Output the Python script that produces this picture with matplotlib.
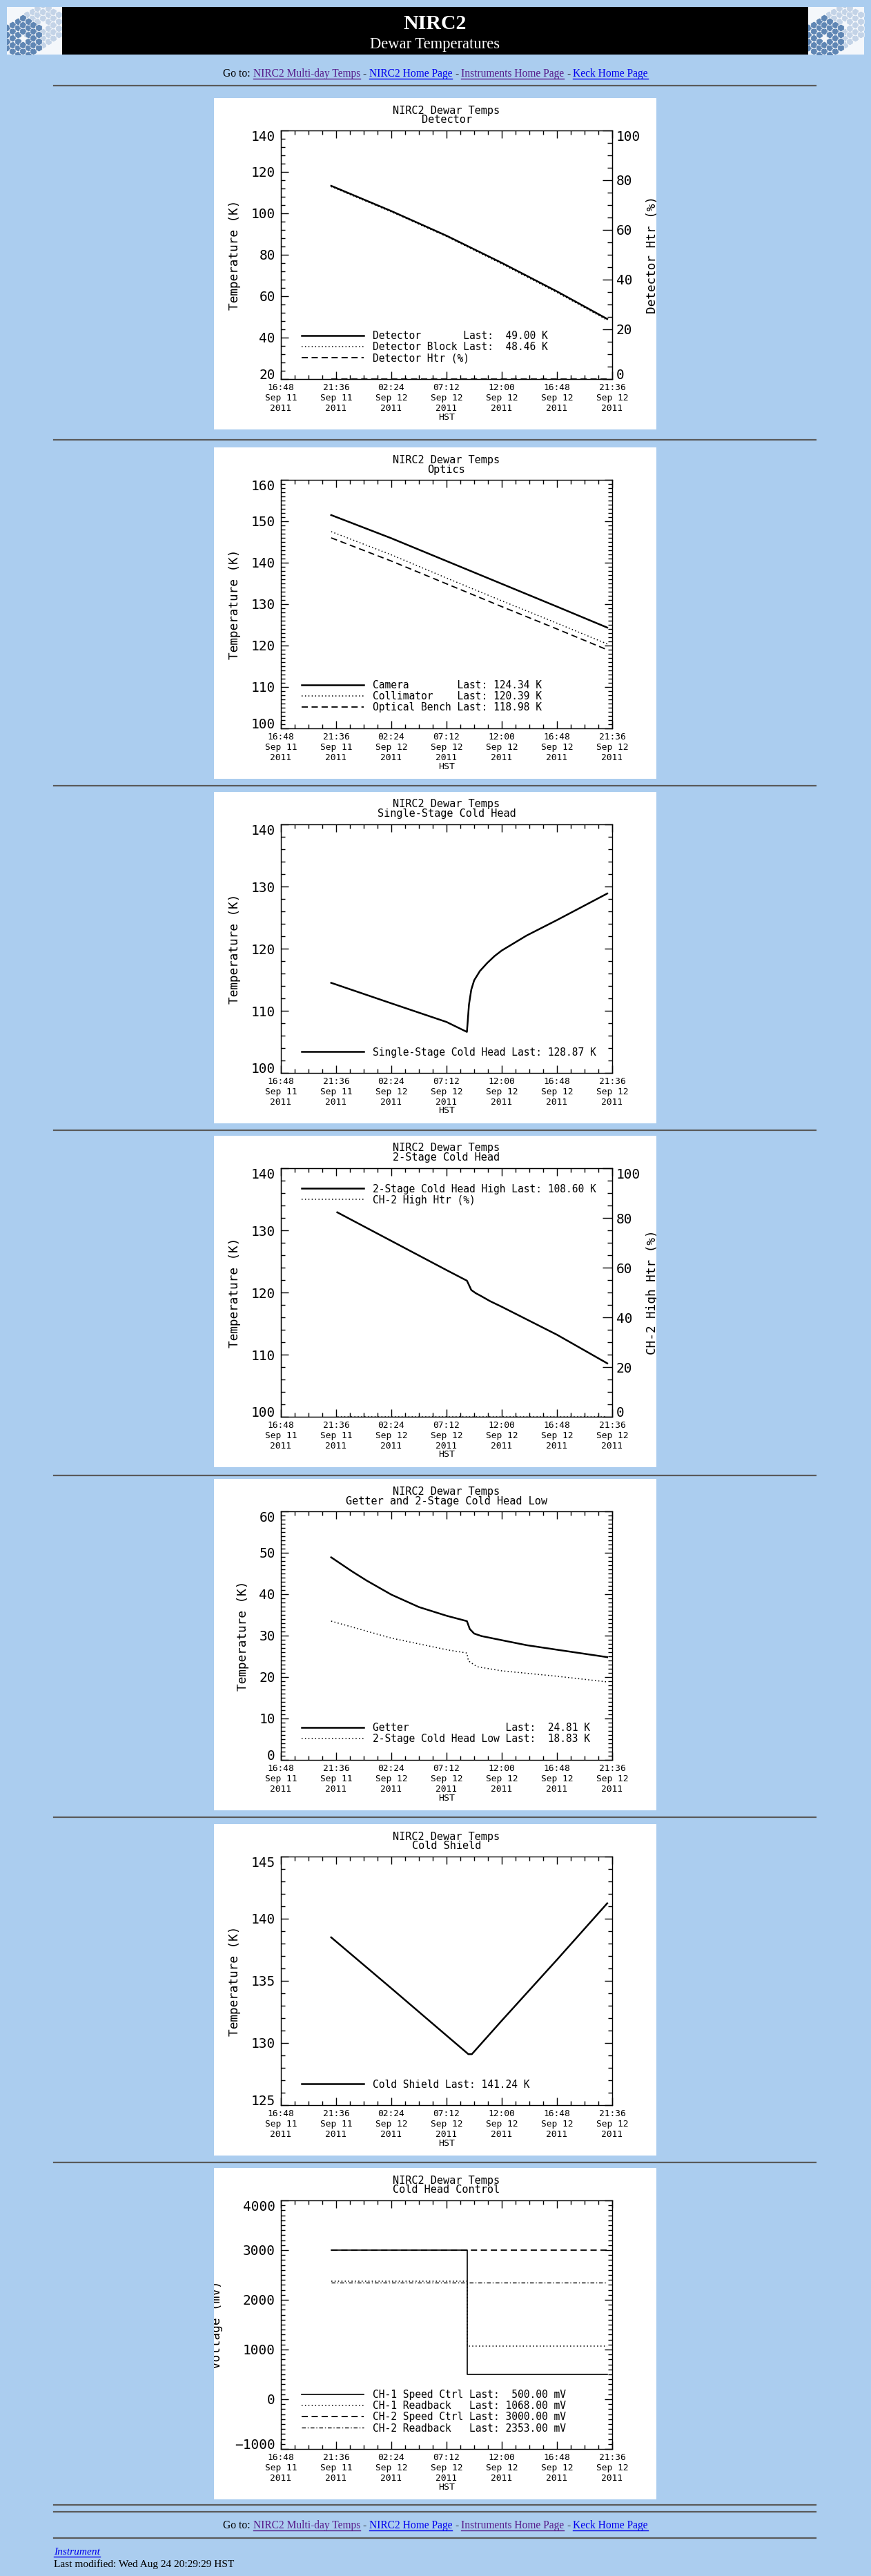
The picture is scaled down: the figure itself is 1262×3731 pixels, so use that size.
import numpy as np
import matplotlib
matplotlib.use('Agg')
import matplotlib.pyplot as plt
from matplotlib.lines import Line2D
from matplotlib.patches import Rectangle
from matplotlib.ticker import MultipleLocator
from matplotlib.transforms import Bbox, TransformedBbox

W, H = 1262, 3731
BG = '#abcdef'
MONO = 'DejaVu Sans Mono'
SERIF = 'Liberation Serif'
LINK_BLUE = '#0000ee'
LINK_VISITED = '#551a8b'

plt.rcParams['font.family'] = MONO

# time axis: hours after 16:48 HST, Sep 11 2011
x_ticks = [0, 4.8, 9.6, 14.4, 19.2, 24.0, 28.8]
x_ticklabels = ['16:48\nSep 11\n2011', '21:36\nSep 11\n2011', '02:24\nSep 12\n2011',
                '07:12\nSep 12\n2011', '12:00\nSep 12\n2011', '16:48\nSep 12\n2011',
                '21:36\nSep 12\n2011']

# Detector
det_hours = [4.37, 9.6, 14.4, 19.2, 24.0, 28.37]
detector_k = [113.3, 101.1, 89.2, 76.1, 62.3, 49.00]
det_block_k = [112.9, 100.7, 88.8, 75.6, 61.8, 48.46]
det_htr_hours = [4.37, 28.37]
det_htr_pct = [0.0, 0.0]

# Optics
optics_hours = [4.37, 9.6, 14.4, 19.2, 24.0, 28.37]
camera_k = [151.5, 145.9, 140.4, 134.9, 129.4, 124.34]
collimator_k = [147.5, 141.9, 136.3, 130.8, 125.4, 120.39]
bench_k = [146.0, 140.4, 134.9, 129.4, 124.0, 118.98]

# Single-stage cold head
ch1_hours = [4.37, 9.6, 14.4, 16.17, 16.25, 16.35, 16.55, 16.8, 17.3, 17.94, 18.57,
             19.2, 21.35, 24.0, 28.37]
ch1_k = [114.5, 111.2, 108.2, 106.6, 108.5, 111.0, 113.4, 114.9, 116.4, 117.7, 118.8,
         119.7, 122.1, 124.6, 128.87]

# 2-stage cold head high
ch2_hours = [4.9, 9.6, 14.4, 16.17, 16.3, 16.55, 16.93, 17.43, 18.19, 19.2, 24.0, 28.37]
ch2_high_k = [132.9, 128.3, 123.6, 121.9, 121.4, 120.4, 119.9, 119.4, 118.6, 117.7,
              113.2, 108.60]
ch2_htr_hours = [4.9, 28.37]
ch2_htr_pct = [0.0, 0.0]

# Getter and 2-stage cold head low
getter_hours = [4.37, 6.19, 7.45, 9.6, 12.0, 14.4, 16.17, 16.42, 16.8, 17.43, 19.2,
                21.35, 24.0, 28.37]
getter_k = [48.9, 45.5, 43.3, 39.9, 36.9, 34.8, 33.5, 31.6, 30.5, 29.9, 28.9, 27.7,
            26.6, 24.81]
ch2_low_hours = [4.37, 9.6, 14.4, 16.17, 16.3, 17.05, 19.2, 24.0, 28.37]
ch2_low_k = [33.5, 29.4, 26.6, 25.8, 23.9, 22.5, 21.5, 20.2, 18.83]

# Cold shield
shield_hours = [4.37, 9.6, 14.4, 16.3, 16.6, 19.2, 24.0, 28.37]
shield_k = [138.5, 134.4, 130.6, 129.1, 129.1, 131.8, 136.7, 141.24]

# Cold head control (mV)
ctrl_hours = [4.37, 16.17, 16.17, 28.37]
ch1_speed_mv = [3000, 3000, 500, 500]
ch1_readback_mv = [2370, 2370, 1068, 1068]
ch2_speed_mv = [3000, 3000, 3000, 3000]
ch2_readback_mv = [2353, 2353, 2353, 2353]

# panel tops (px from top of page) and rules
panel_tops = [142, 648, 1147, 1645, 2142, 2642, 3140]
rule_ys = [124, 637, 1138, 1637, 2137, 2632, 3132, 3628, 3638, 3676]

SOLID = dict(color='black', lw=1.8, ls='-')
DOTTED = dict(color='black', lw=1.1, ls=(0, (1, 2.2)))
DASHED = dict(color='black', lw=1.3, ls=(0, (5, 3)))
DASHDOT = dict(color='black', lw=1.0, ls=(0, (4, 2, 1, 2)))

fig = plt.figure(figsize=(W / 100, H / 100), dpi=100, facecolor=BG)


def fx(px):
    return px / W


def fy(py):
    return 1 - py / H


def rule(y):
    fig.add_artist(Line2D([fx(78), fx(1182)], [fy(y), fy(y)], color='#5a5a5a', lw=1.6))


def logo(x0, x1):
    lax = fig.add_axes([fx(x0), fy(79), (x1 - x0) / W, 69 / H])
    lax.set_facecolor('#f4f7fb')
    for s in lax.spines.values():
        s.set_visible(False)
    lax.set_xticks([])
    lax.set_yticks([])
    lax.set_xlim(-1, 1)
    lax.set_ylim(-1, 1)
    cells = [(q, r) for q in range(-3, 4) for r in range(-3, 4)
             if max(abs(q), abs(r), abs(q + r)) <= 3 and (q, r) != (0, 0)]
    for cx, cy, col in [(0.3, 0.25, '#c3d3e7'), (-0.42, -0.3, '#5f86b4')]:
        xs = [cx + 0.19 * q for q, r in cells]
        ys = [cy + 0.28 * (r + q / 2) for q, r in cells]
        lax.scatter(xs, ys, marker='h', s=62, color=col, edgecolors='white',
                    linewidths=0.5)


def panel_clip(T):
    return TransformedBbox(Bbox.from_extents(fx(310), fy(T + 480), fx(951), fy(T)),
                           fig.transFigure)


def clamp_end_labels(axis, which=1):
    # IDL keeps the end tick labels inside the axis range
    ticks = axis.get_major_ticks()
    lab_lo = ticks[0].label1 if which == 1 else ticks[0].label2
    lab_hi = ticks[-1].label1 if which == 1 else ticks[-1].label2
    lab_lo.set_va('baseline')
    lab_hi.set_va('top')


def make_panel(T, subtitle, ylim, major, minor, ylabel, ylabel_x=340, twin=False):
    fig.add_artist(Rectangle((fx(310), fy(T + 480)), 641 / W, 480 / H,
                             transform=fig.transFigure, facecolor='white',
                             edgecolor='none', zorder=-1))
    ax = fig.add_axes([fx(407), fy(T + 407), 480 / W, 360 / H])
    ax.set_xlim(0, 28.8)
    ax.set_ylim(*ylim)
    ax.set_xticks(x_ticks, x_ticklabels, linespacing=1.2)
    ax.xaxis.set_minor_locator(MultipleLocator(1.2))
    ax.set_yticks(np.arange(ylim[0], ylim[1] + major / 2, major))
    ax.yaxis.set_minor_locator(MultipleLocator(minor))
    ax.tick_params(which='both', direction='in', top=True, right=not twin, width=1)
    ax.tick_params(which='major', length=8)
    ax.tick_params(which='minor', length=4)
    ax.tick_params(axis='x', labelsize=9.3, pad=4.5)
    ax.tick_params(axis='y', labelsize=14, pad=5.8)
    clamp_end_labels(ax.yaxis)
    for s in ax.spines.values():
        s.set_linewidth(1.0)
    ax.text(0.5, 1 + (47 - 18) / 360, 'NIRC2 Dewar Temps', transform=ax.transAxes,
            ha='center', va='center', fontsize=11)
    ax.text(0.5, 1 + (47 - 32) / 360, subtitle, transform=ax.transAxes,
            ha='center', va='center', fontsize=11)
    ax.set_ylabel(ylabel, fontsize=12.8, va='center')
    ax.yaxis.set_label_coords((ylabel_x - 407) / 480, 0.5)
    ax.yaxis.label.set_clip_box(panel_clip(T))
    ax.set_xlabel('HST', fontsize=9.5, va='center')
    ax.xaxis.set_label_coords(0.5, -55 / 360)
    return ax


def add_right(ax, T, label):
    ax2 = ax.twinx()
    ax2.set_ylim(0, 100)
    ax2.set_yticks(np.arange(0, 101, 20))
    ax2.yaxis.set_minor_locator(MultipleLocator(5))
    ax2.tick_params(which='both', direction='in', width=1, labelsize=14, pad=4.3)
    ax2.tick_params(which='major', length=10)
    ax2.tick_params(which='minor', length=5)
    clamp_end_labels(ax2.yaxis, which=2)
    ax2.set_ylabel(label, fontsize=12.8, va='center', rotation=90)
    ax2.yaxis.set_label_coords((945 - 407) / 480, 0.5)
    ax2.yaxis.label.set_clip_box(panel_clip(T))
    return ax2


def legend(ax, handles, labels, top=False):
    fs_px = 10.5 * 100 / 72
    if top:
        loc, anchor = 'upper left', (30 / 480, 1 - 22.5 / 360)
    else:
        loc, anchor = 'lower left', (30 / 480, 22.5 / 360)
    ax.legend(handles, labels, loc=loc, bbox_to_anchor=anchor, frameon=False,
              prop={'family': MONO, 'size': 10.5}, handlelength=90 / fs_px,
              handletextpad=13 / fs_px, borderpad=0, borderaxespad=0,
              labelspacing=0.07)


# ---- page header ----
logo(10, 90)
logo(1171, 1252)
fig.add_artist(Rectangle((fx(90), fy(79)), 1081 / W, 69 / H, transform=fig.transFigure,
                         facecolor='black', edgecolor='none'))
fig.text(fx(630.5), fy(41.7), 'NIRC2', color='white', family=SERIF, fontsize=21.5,
         fontweight='bold', ha='center', va='baseline')
fig.text(fx(630.5), fy(70), 'Dewar Temperatures', color='white', family=SERIF,
         fontsize=16.3, ha='center', va='baseline')

renderer = fig.canvas.get_renderer()
nav = [('Go to:', 'black', False), ('NIRC2 Multi-day Temps', LINK_VISITED, True),
       ('-', 'black', False), ('NIRC2 Home Page', LINK_BLUE, True),
       ('-', 'black', False), ('Instruments Home Page', LINK_VISITED, True),
       ('-', 'black', False), ('Keck Home Page', LINK_BLUE, True)]
NAV_FS = 11.2


def text_w(s, **kw):
    t = fig.text(0, 0, s, **kw)
    w = t.get_window_extent(renderer).width
    t.remove()
    return w


space_w = (text_w('x x', family=SERIF, fontsize=NAV_FS)
           - text_w('xx', family=SERIF, fontsize=NAV_FS))
widths = [text_w(s, family=SERIF, fontsize=NAV_FS) for s, _, _ in nav]


def nav_line(baseline):
    total = sum(widths) + space_w * (len(nav) - 1)
    x = 631 - total / 2
    for (s, col, link), w in zip(nav, widths):
        fig.text(fx(x), fy(baseline), s, color=col, family=SERIF, fontsize=NAV_FS,
                 ha='left', va='baseline')
        if link:
            fig.add_artist(Line2D([fx(x), fx(x + w)], [fy(baseline + 3), fy(baseline + 3)],
                                  color=col, lw=1.0))
        x += w + space_w


nav_line(111)
for y in rule_ys:
    rule(y)

# ---- 1: detector ----
T = panel_tops[0]
ax = make_panel(T, 'Detector', (20, 140), 20, 4, 'Temperature (K)', twin=True)
ax2 = add_right(ax, T, 'Detector Htr (%)')
l1, = ax.plot(det_hours, detector_k, **SOLID)
l2, = ax.plot(det_hours, det_block_k, **DOTTED)
l3, = ax2.plot(det_htr_hours, det_htr_pct, **DASHED)
legend(ax2, [l1, l2, l3],
       [f"{'Detector':<14} Last: {detector_k[-1]:6.2f} K",
        f"{'Detector Block':<14} Last: {det_block_k[-1]:6.2f} K",
        'Detector Htr (%)'])

# ---- 2: optics ----
T = panel_tops[1]
ax = make_panel(T, 'Optics', (100, 160), 10, 1, 'Temperature (K)')
l1, = ax.plot(optics_hours, camera_k, **SOLID)
l2, = ax.plot(optics_hours, collimator_k, **DOTTED)
l3, = ax.plot(optics_hours, bench_k, **DASHED)
legend(ax, [l1, l2, l3],
       [f"{'Camera':<13} Last: {camera_k[-1]:6.2f} K",
        f"{'Collimator':<13} Last: {collimator_k[-1]:6.2f} K",
        f"{'Optical Bench':<13} Last: {bench_k[-1]:6.2f} K"])

# ---- 3: single-stage cold head ----
T = panel_tops[2]
ax = make_panel(T, 'Single-Stage Cold Head', (100, 140), 10, 2, 'Temperature (K)')
l1, = ax.plot(ch1_hours, ch1_k, **SOLID)
legend(ax, [l1], [f"Single-Stage Cold Head Last: {ch1_k[-1]:6.2f} K"])

# ---- 4: 2-stage cold head ----
T = panel_tops[3]
ax = make_panel(T, '2-Stage Cold Head', (100, 140), 10, 2, 'Temperature (K)', twin=True)
ax2 = add_right(ax, T, 'CH-2 High Htr (%)')
l1, = ax.plot(ch2_hours, ch2_high_k, **SOLID)
l2, = ax2.plot(ch2_htr_hours, ch2_htr_pct, **DOTTED)
legend(ax2, [l1, l2], [f"2-Stage Cold Head High Last: {ch2_high_k[-1]:6.2f} K",
                       'CH-2 High Htr (%)'], top=True)

# ---- 5: getter ----
T = panel_tops[4]
ax = make_panel(T, 'Getter and 2-Stage Cold Head Low', (0, 60), 10, 1, 'Temperature (K)',
                ylabel_x=352)
l1, = ax.plot(getter_hours, getter_k, **SOLID)
l2, = ax.plot(ch2_low_hours, ch2_low_k, **DOTTED)
legend(ax, [l1, l2], [f"{'Getter':<21} Last: {getter_k[-1]:6.2f} K",
                      f"{'2-Stage Cold Head Low':<21} Last: {ch2_low_k[-1]:6.2f} K"])

# ---- 6: cold shield ----
T = panel_tops[5]
ax = make_panel(T, 'Cold Shield', (125, 145), 5, 1, 'Temperature (K)')
l1, = ax.plot(shield_hours, shield_k, **SOLID)
legend(ax, [l1], [f"Cold Shield Last: {shield_k[-1]:6.2f} K"])

# ---- 7: cold head control ----
T = panel_tops[6]
ax = make_panel(T, 'Cold Head Control', (-1000, 4000), 1000, 100, 'Voltage (mV)',
                ylabel_x=314)
l1, = ax.plot(ctrl_hours, ch1_speed_mv, color='black', lw=1.2)
l2, = ax.plot(ctrl_hours, ch1_readback_mv, **DOTTED)
l3, = ax.plot(ctrl_hours, ch2_speed_mv, **DASHED)
l4, = ax.plot(ctrl_hours, ch2_readback_mv, **DASHDOT)
legend(ax, [l1, l2, l3, l4],
       [f"{'CH-1 Speed Ctrl':<15} Last: {ch1_speed_mv[-1]:7.2f} mV",
        f"{'CH-1 Readback':<15} Last: {ch1_readback_mv[-1]:7.2f} mV",
        f"{'CH-2 Speed Ctrl':<15} Last: {ch2_speed_mv[-1]:7.2f} mV",
        f"{'CH-2 Readback':<15} Last: {ch2_readback_mv[-1]:7.2f} mV"])

# ---- footer ----
nav_line(3662)
inst = fig.text(fx(78), fy(3700), 'Instrument', color=LINK_BLUE, family=SERIF,
                fontsize=11.1, style='italic', ha='left', va='baseline')
iw = inst.get_window_extent(renderer).width
fig.add_artist(Line2D([fx(78), fx(78 + iw)], [fy(3703), fy(3703)], color=LINK_BLUE, lw=1.0))
fig.text(fx(78), fy(3718), 'Last modified: Wed Aug 24 20:29:29 HST', color='black',
         family=SERIF, fontsize=11.1, ha='left', va='baseline')

fig.savefig('out.png', dpi=100, facecolor=BG)
